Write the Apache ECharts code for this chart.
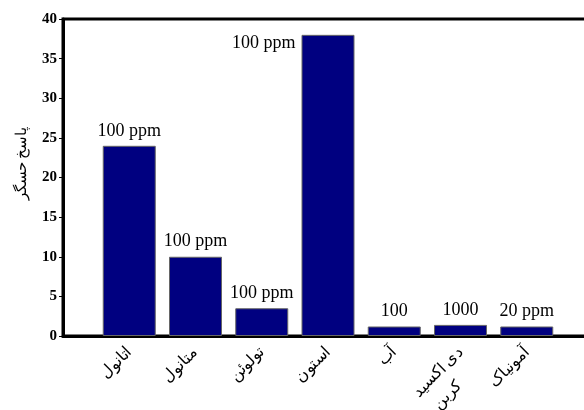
<!DOCTYPE html>
<html>
<head>
<meta charset="utf-8">
<script src="https://cdn.jsdelivr.net/npm/echarts@6/dist/echarts.min.js"></script>
<style>
  html, body { margin: 0; padding: 0; background: #fff; }
  #chart { width: 584px; height: 410px; }
</style>
</head>
<body>
<div id="chart"></div>
<script>
// Gas names along the bottom axis
const categories = ['اتانول', 'متانول', 'تولوئن', 'استون', 'آب', 'دی اکسید\nکربن', 'آمونیاک'];
// Sensor response for each gas
const responses = [24, 10, 3.5, 38, 1.2, 1.4, 1.2];
// Concentration tag shown above each bar
const concentrations = ['100 ppm', '100 ppm', '100 ppm', '100 ppm', '100', '1000', '20 ppm'];
// Y axis range and step
const yTicks = [0, 5, 10, 15, 20, 25, 30, 35, 40];

const serif = '"Liberation Serif", "Times New Roman", "DejaVu Serif", serif';

const barData = responses.map(function (v, i) {
  const tall = v > 35;
  return {
    value: [i + 1, v],
    label: tall
      ? { show: true, formatter: concentrations[i], position: [-6, 8], align: 'right', verticalAlign: 'middle' }
      : { show: true, formatter: concentrations[i], position: 'top', distance: 6 }
  };
});

// Two-line names: an empty spacer line keeps the first line where a single
// line would sit; the shorter second line is centred under it
function categoryLabel(name) {
  const lines = name.split('\n');
  if (lines.length < 2) return '{n|' + name + '}';
  return '{e| }\n{n|' + lines[0] + '}\n{s|' + lines[1] + '}';
}

const chart = echarts.init(document.getElementById('chart'), null, { renderer: 'canvas' });
chart.setOption({
  animation: false,
  backgroundColor: '#fff',
  grid: {
    left: 63, top: 19, width: 530, height: 317,
    outerBoundsMode: 'none',
    containLabel: false,
    show: true, borderColor: '#000', borderWidth: 3, backgroundColor: 'transparent'
  },
  xAxis: {
    type: 'value',
    min: 0, max: categories.length + 1, interval: 1,
    splitLine: { show: false },
    axisTick: { show: false },
    axisLine: { show: true, lineStyle: { color: '#000', width: 3 } },
    axisLabel: {
      rotate: 45,
      margin: 14,
      color: '#000',
      fontFamily: serif,
      fontSize: 16,
      showMinLabel: true, showMaxLabel: true,
      hideOverlap: false,
      rich: {
        e: { fontFamily: serif, fontSize: 16, lineHeight: 26, color: '#000' },
        n: { fontFamily: serif, fontSize: 16, lineHeight: 20, color: '#000' },
        s: { fontFamily: serif, fontSize: 16, lineHeight: 26, color: '#000', padding: [0, 24, 0, 0] }
      },
      formatter: function (val) {
        const idx = Math.round(val) - 1;
        return (idx >= 0 && idx < categories.length) ? categoryLabel(categories[idx]) : '';
      }
    }
  },
  yAxis: {
    type: 'value',
    min: yTicks[0], max: yTicks[yTicks.length - 1], interval: yTicks[1] - yTicks[0],
    name: 'پاسخ حسگر',
    nameLocation: 'middle',
    nameGap: 33,
    nameTextStyle: { color: '#000', fontFamily: serif, fontSize: 15, padding: [0, 0, 0, 28] },
    splitLine: { show: false },
    axisLine: { show: true, lineStyle: { color: '#000', width: 3 } },
    axisTick: { show: true, inside: false, length: 4, lineStyle: { color: '#000', width: 1 } },
    axisLabel: { color: '#000', fontFamily: serif, fontWeight: 'bold', fontSize: 15, margin: 6 }
  },
  series: [{
    type: 'bar',
    barWidth: 53,
    data: barData,
    itemStyle: { color: '#000080', borderColor: '#666', borderWidth: 1 },
    label: { color: '#000', fontFamily: serif, fontSize: 18 }
  }]
});
</script>
</body>
</html>
